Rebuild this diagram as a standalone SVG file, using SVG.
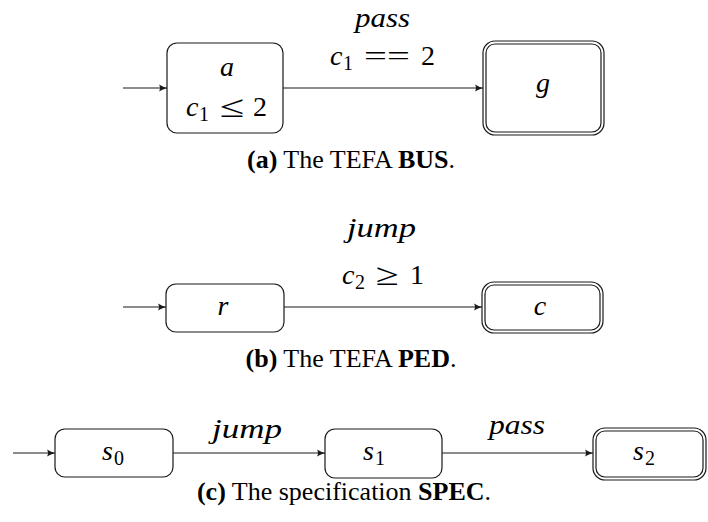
<svg xmlns="http://www.w3.org/2000/svg" width="708" height="522" viewBox="0 0 708 522">
  <style>
    .node { fill: #ffffff; stroke: #1a1a1a; stroke-width: 1.2; }
    .edge { fill: none; stroke: #1a1a1a; stroke-width: 1.2; marker-end: url(#ah); }
    .m { font-family: "Liberation Serif", "Times New Roman", serif; font-size: 28px; font-style: italic; fill: #000; }
    .r { font-family: "Liberation Serif", "Times New Roman", serif; font-size: 28px; font-style: normal; fill: #000; }
    .sub { font-family: "Liberation Serif", "Times New Roman", serif; font-size: 20px; font-style: normal; fill: #000; }
    .cap { font-family: "Liberation Serif", "Times New Roman", serif; font-size: 26px; fill: #000; }
    .b { font-weight: bold; }
  </style>
  <defs>
    <marker id="ah" markerWidth="10" markerHeight="10" refX="9" refY="5" orient="auto" markerUnits="userSpaceOnUse">
      <path d="M1,1.5 Q5,4 9,5 Q5,6 1,8.5 Q3,5 1,1.5 Z" fill="#1a1a1a"/>
    </marker>
  </defs>

  <!-- (a) automaton BUS -->
  <g id="node-a">
    <rect class="node" x="167" y="43" width="116" height="90" rx="10"/>
    <text class="m" x="227" y="76" text-anchor="middle">a</text>
    <text class="m" x="186" y="116">c</text>
    <text class="sub" x="199" y="121">1</text>
    <text class="r" transform="translate(220,117) scale(1.6,1.1)">≤</text>
    <text class="r" x="253" y="116">2</text>
  </g>
  <g id="node-g">
    <rect class="node" x="483" y="41" width="121" height="94" rx="12"/>
    <rect class="node" x="486" y="44" width="115" height="88" rx="9"/>
    <text class="m" x="543" y="92" text-anchor="middle">g</text>
  </g>

  <!-- (b) automaton PED -->
  <g id="node-r">
    <rect class="node" x="166" y="284" width="118" height="48" rx="10"/>
    <text class="m" x="223" y="315" text-anchor="middle">r</text>
  </g>
  <g id="node-c">
    <rect class="node" x="482" y="282" width="121" height="51" rx="12"/>
    <rect class="node" x="485" y="285" width="115" height="45" rx="9"/>
    <text class="m" x="540" y="315" text-anchor="middle">c</text>
  </g>

  <!-- (c) specification SPEC -->
  <g id="node-s0">
    <rect class="node" x="55" y="429" width="118" height="48" rx="10"/>
    <text class="m" x="102" y="460">s</text>
    <text class="sub" x="114" y="465">0</text>
  </g>
  <g id="node-s1">
    <rect class="node" x="325" y="429" width="117" height="49" rx="10"/>
    <text class="m" x="363" y="460">s</text>
    <text class="sub" x="375" y="465">1</text>
  </g>
  <g id="node-s2">
    <rect class="node" x="593" y="428" width="113" height="52" rx="12"/>
    <rect class="node" x="596" y="431" width="107" height="46" rx="9"/>
    <text class="m" x="633" y="460">s</text>
    <text class="sub" x="645" y="465">2</text>
  </g>

  <g id="connectors">
    <!-- BUS -->
    <line class="edge" x1="123" y1="88" x2="167" y2="88"/>
    <line class="edge" x1="283" y1="88" x2="483" y2="88"/>
    <text class="m" x="355" y="27" textLength="55" lengthAdjust="spacingAndGlyphs">pass</text>
    <text class="m" x="330" y="65">c</text>
    <text class="sub" x="343" y="70">1</text>
    <text class="r" transform="translate(364,65) scale(1.45,1)">==</text>
    <text class="r" x="421" y="65">2</text>

    <!-- PED -->
    <line class="edge" x1="123" y1="307" x2="166" y2="307"/>
    <line class="edge" x1="284" y1="307" x2="482" y2="307"/>
    <text class="m" x="347" y="237" textLength="69" lengthAdjust="spacingAndGlyphs">jump</text>
    <text class="m" x="342" y="284">c</text>
    <text class="sub" x="355" y="289">2</text>
    <text class="r" transform="translate(376,285) scale(1.5,1.1)">≥</text>
    <text class="r" x="410" y="284">1</text>

    <!-- SPEC -->
    <line class="edge" x1="13" y1="453" x2="55" y2="453"/>
    <line class="edge" x1="173" y1="453" x2="325" y2="453"/>
    <line class="edge" x1="442" y1="453" x2="593" y2="453"/>
    <text class="m" x="212" y="438" textLength="70" lengthAdjust="spacingAndGlyphs">jump</text>
    <text class="m" x="489" y="434" textLength="56" lengthAdjust="spacingAndGlyphs">pass</text>
  </g>

  <!-- sub-figure captions -->
  <text class="cap" x="351" y="168" text-anchor="middle"><tspan class="b">(a)</tspan> The TEFA <tspan class="b">BUS</tspan>.</text>
  <text class="cap" x="351" y="367" text-anchor="middle"><tspan class="b">(b)</tspan> The TEFA <tspan class="b">PED</tspan>.</text>
  <text class="cap" x="344" y="500" text-anchor="middle"><tspan class="b">(c)</tspan> The specification <tspan class="b">SPEC</tspan>.</text>
</svg>
